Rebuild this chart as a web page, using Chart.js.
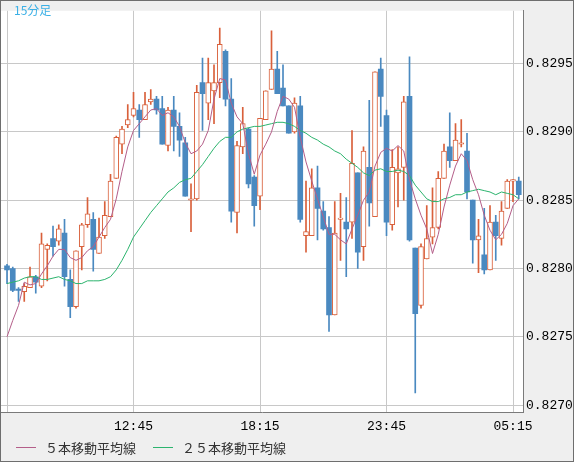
<!DOCTYPE html>
<html><head><meta charset="utf-8">
<script src="https://cdn.jsdelivr.net/npm/chart.js@4"></script>
<style>html,body{margin:0;padding:0;background:#efefef;}canvas{display:block;}</style>
</head><body>
<canvas id="c" width="574" height="462"></canvas>
<script>
const chartTitle = '15分足';
const seriesNames = ['５本移動平均線', '２５本移動平均線'];
const timeTickIndex = [0, 22, 44, 66, 88];
const timeTickLabels = ['', '12:45', '18:15', '23:45', '05:15'];
const priceTicks = [0.8270, 0.8275, 0.8280, 0.8285, 0.8290, 0.8295];

const open = [0.82802,0.82800,0.82785,0.82783,0.82786,0.82794,0.82787,0.82814,0.82822,0.82820,
 0.82826,0.82792,0.82772,0.82816,0.82832,0.82836,0.82811,0.82824,0.82838,0.82866,
 0.82891,0.82905,0.82912,0.82916,0.82909,0.82922,0.82924,0.82917,0.82890,0.82916,
 0.82904,0.82892,0.82850,0.82851,0.82936,0.82921,0.82930,0.82936,0.82959,0.82924,
 0.82841,0.82889,0.82902,0.82867,0.82853,0.82909,0.82931,0.82946,0.82932,0.82919,
 0.82900,0.82919,0.82824,0.82824,0.82859,0.82842,0.82830,0.82766,0.82836,0.82834,
 0.82834,0.82870,0.82816,0.82874,0.82838,0.82946,0.82912,0.82832,0.82870,0.82874,
 0.82926,0.82815,0.82773,0.82807,0.82823,0.82830,0.82866,0.82889,0.82879,0.82891,
 0.82886,0.82850,0.82821,0.82810,0.82799,0.82834,0.82822,0.82844,0.82864,0.82864];
const high = [0.82803,0.82801,0.82786,0.82789,0.82801,0.82795,0.82826,0.82818,0.82831,0.82832,
 0.82836,0.82799,0.82813,0.82833,0.82852,0.82841,0.82837,0.82849,0.82869,0.82897,
 0.82904,0.82920,0.82929,0.82920,0.82929,0.82931,0.82926,0.82926,0.82918,0.82926,
 0.82914,0.82896,0.82862,0.82934,0.82954,0.82954,0.82949,0.82976,0.82960,0.82939,
 0.82893,0.82918,0.82903,0.82868,0.82910,0.82930,0.82974,0.82959,0.82949,0.82919,
 0.82925,0.82926,0.82864,0.82873,0.82875,0.82849,0.82838,0.82849,0.82855,0.82852,
 0.82901,0.82870,0.82889,0.82923,0.82944,0.82954,0.82916,0.82887,0.82889,0.82926,
 0.82955,0.82815,0.82818,0.82846,0.82859,0.82871,0.82891,0.82914,0.82906,0.82909,
 0.82899,0.82850,0.82836,0.82844,0.82846,0.82839,0.82849,0.82865,0.82865,0.82867];
const low = [0.82789,0.82783,0.82776,0.82776,0.82786,0.82782,0.82786,0.82791,0.82809,0.82817,
 0.82787,0.82764,0.82771,0.82799,0.82830,0.82798,0.82811,0.82822,0.82838,0.82866,
 0.82884,0.82903,0.82911,0.82896,0.82909,0.82920,0.82913,0.82891,0.82886,0.82886,
 0.82882,0.82853,0.82827,0.82850,0.82901,0.82909,0.82906,0.82925,0.82919,0.82834,
 0.82826,0.82884,0.82859,0.82831,0.82843,0.82909,0.82931,0.82928,0.82919,0.82899,
 0.82899,0.82834,0.82812,0.82824,0.82821,0.82828,0.82754,0.82766,0.82806,0.82794,
 0.82822,0.82800,0.82806,0.82831,0.82838,0.82904,0.82824,0.82828,0.82845,0.82850,
 0.82820,0.82709,0.82771,0.82807,0.82818,0.82829,0.82866,0.82874,0.82879,0.82889,
 0.82851,0.82804,0.82797,0.82796,0.82799,0.82806,0.82817,0.82844,0.82849,0.82851];
const close = [0.82799,0.82784,0.82784,0.82787,0.82794,0.82790,0.82818,0.82817,0.82816,0.82829,
 0.82794,0.82772,0.82813,0.82832,0.82840,0.82814,0.82823,0.82839,0.82864,0.82896,
 0.82902,0.82909,0.82917,0.82909,0.82920,0.82924,0.82916,0.82891,0.82916,0.82904,
 0.82894,0.82853,0.82851,0.82929,0.82928,0.82936,0.82936,0.82964,0.82924,0.82842,
 0.82890,0.82906,0.82862,0.82846,0.82910,0.82930,0.82946,0.82928,0.82919,0.82899,
 0.82921,0.82836,0.82827,0.82859,0.82844,0.82829,0.82766,0.82826,0.82837,0.82829,
 0.82877,0.82812,0.82886,0.82848,0.82944,0.82926,0.82834,0.82874,0.82873,0.82922,
 0.82821,0.82767,0.82816,0.82822,0.82830,0.82866,0.82886,0.82879,0.82894,0.82892,
 0.82856,0.82821,0.82824,0.82799,0.82834,0.82824,0.82842,0.82864,0.82865,0.82854];
const ma5 = [0.82750,0.82762,0.82773,0.82790,0.82788,0.82789,0.82796,0.82802,0.82809,0.82814,
 0.82814,0.82808,0.82806,0.82808,0.82813,0.82816,0.82823,0.82830,0.82836,0.82851,
 0.82871,0.82889,0.82901,0.82906,0.82911,0.82916,0.82917,0.82912,0.82914,0.82911,
 0.82904,0.82892,0.82884,0.82886,0.82891,0.82901,0.82924,0.82939,0.82938,0.82921,
 0.82911,0.82906,0.82884,0.82869,0.82883,0.82891,0.82900,0.82915,0.82926,0.82924,
 0.82918,0.82896,0.82878,0.82864,0.82851,0.82838,0.82825,0.82825,0.82821,0.82818,
 0.82829,0.82839,0.82850,0.82856,0.82875,0.82885,0.82888,0.82886,0.82890,0.82886,
 0.82865,0.82851,0.82839,0.82829,0.82811,0.82825,0.82845,0.82861,0.82875,0.82884,
 0.82879,0.82865,0.82854,0.82839,0.82828,0.82821,0.82825,0.82833,0.82846,0.82851];
const ma25 = [0.82789,0.82790,0.82791,0.82793,0.82794,0.82794,0.82792,0.82792,0.82793,0.82794,
 0.82792,0.82791,0.82789,0.82789,0.82791,0.82791,0.82791,0.82792,0.82794,0.82799,
 0.82806,0.82814,0.82823,0.82829,0.82835,0.82841,0.82846,0.82851,0.82856,0.82859,
 0.82863,0.82865,0.82866,0.82871,0.82876,0.82882,0.82888,0.82893,0.82896,0.82896,
 0.82900,0.82902,0.82903,0.82904,0.82904,0.82905,0.82906,0.82907,0.82907,0.82906,
 0.82904,0.82901,0.82899,0.82896,0.82894,0.82891,0.82889,0.82886,0.82884,0.82880,
 0.82877,0.82874,0.82870,0.82868,0.82872,0.82873,0.82871,0.82871,0.82872,0.82871,
 0.82868,0.82861,0.82856,0.82851,0.82849,0.82849,0.82851,0.82852,0.82854,0.82854,
 0.82856,0.82857,0.82858,0.82857,0.82856,0.82854,0.82856,0.82855,0.82854,0.82851];

const UP = '#d9603b', DOWN = '#4a89c0', MA5C = '#b45e89', MA25C = '#2cb46e';
const idx = open.map((_, i) => i);
const isUp = idx.map(i => close[i] >= open[i]);

const framePlugin = {
  id: 'frame',
  beforeDraw(chart) {
    const {ctx, chartArea: a} = chart;
    ctx.save();
    ctx.fillStyle = '#efefef';
    ctx.fillRect(0, 0, chart.width, chart.height);
    ctx.fillStyle = '#ffffff';
    ctx.fillRect(a.left, a.top, a.right - a.left, a.bottom - a.top);
    ctx.restore();
  },
  afterDraw(chart) {
    const {ctx} = chart;
    ctx.save();
    ctx.strokeStyle = '#6e6e6e';
    ctx.lineWidth = 1;
    ctx.strokeRect(0.5, 0.5, chart.width - 1, chart.height - 1);
    ctx.fillStyle = '#3bb0e6';
    ctx.font = '12px "Noto Sans CJK JP"';
    ctx.textBaseline = 'middle';
    ctx.textAlign = 'left';
    ctx.fillText(chartTitle, 14, 10);
    const items = [{x: 16, ds: chart.data.datasets[0]}, {x: 153, ds: chart.data.datasets[1]}];
    ctx.font = '13px "Noto Sans CJK JP"';
    items.forEach(it => {
      ctx.strokeStyle = it.ds.borderColor;
      ctx.beginPath();
      ctx.moveTo(it.x, 447.5);
      ctx.lineTo(it.x + 20, 447.5);
      ctx.stroke();
      ctx.fillStyle = '#333333';
      ctx.fillText(it.ds.label, it.x + 29, 448);
    });
    ctx.restore();
  }
};

const monoFont = {family: '"Liberation Mono", "DejaVu Sans Mono", monospace', size: 13};

new Chart(document.getElementById('c'), {
  type: 'bar',
  data: {
    datasets: [
      {type: 'line', label: seriesNames[0], data: idx.map(i => ({x: i, y: ma5[i]})),
       borderColor: MA5C, borderWidth: 1, pointRadius: 0, tension: 0, order: 0},
      {type: 'line', label: seriesNames[1], data: idx.map(i => ({x: i, y: ma25[i]})),
       borderColor: MA25C, borderWidth: 1, pointRadius: 0, tension: 0, order: 0},
      {type: 'bar', label: 'body', data: idx.map(i => ({x: i, y: [open[i], close[i]]})),
       backgroundColor: idx.map(i => isUp[i] ? '#ffffff' : DOWN),
       borderColor: idx.map(i => isUp[i] ? UP : DOWN),
       borderWidth: idx.map(i => isUp[i] ? 1 : 0),
       borderSkipped: false, barThickness: 5, grouped: false, order: 1},
      {type: 'bar', label: 'wick', data: idx.map(i => ({x: i, y: [low[i], high[i]]})),
       backgroundColor: idx.map(i => isUp[i] ? UP : DOWN),
       borderWidth: 0, barThickness: 1, grouped: false, order: 2}
    ]
  },
  options: {
    responsive: false,
    animation: false,
    devicePixelRatio: 1,
    layout: {padding: {left: 1, top: 1, right: 0, bottom: 0}},
    plugins: {legend: {display: false}, tooltip: {enabled: false}, title: {display: false}},
    scales: {
      x: {
        type: 'linear', min: -1.0435, max: 89.739, offset: false,
        afterBuildTicks: s => { s.ticks = timeTickIndex.map(v => ({value: v})); },
        ticks: {callback: v => { const k = timeTickIndex.indexOf(v); return k >= 0 ? timeTickLabels[k] : ''; },
                autoSkip: false, maxRotation: 0, minRotation: 0, font: monoFont, color: '#000000', padding: 7},
        grid: {color: '#c8c8c8', lineWidth: 1, drawTicks: false, offset: false},
        border: {display: true, color: '#7a7a7a', width: 1},
        afterFit: s => { s.height = 50; }
      },
      y: {
        type: 'linear', position: 'right', min: 0.82695, max: 0.829886,
        afterBuildTicks: s => { s.ticks = priceTicks.map(v => ({value: v})); },
        ticks: {callback: v => Number(v).toFixed(4), font: monoFont, color: '#000000', padding: 3},
        grid: {color: '#c8c8c8', lineWidth: 1, drawTicks: false},
        border: {display: true, color: '#7a7a7a', width: 1},
        afterFit: s => { s.width = 51; }
      }
    }
  },
  plugins: [framePlugin]
});
</script>
</body></html>
